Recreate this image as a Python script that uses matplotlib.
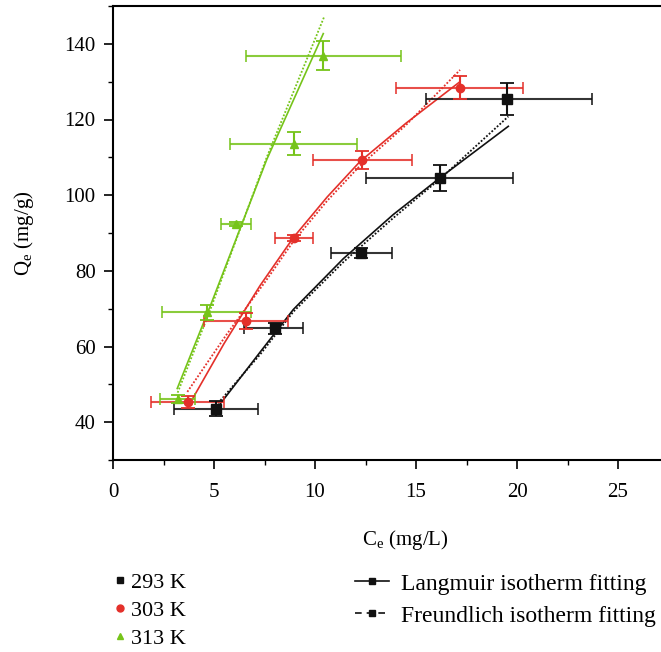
import matplotlib
matplotlib.use("Agg")
import matplotlib.pyplot as plt
from matplotlib.lines import Line2D
from matplotlib.ticker import MultipleLocator

plt.rcParams["font.family"] = ["Liberation Serif", "DejaVu Serif"]
plt.rcParams["mathtext.fontset"] = "custom"
plt.rcParams["mathtext.rm"] = "Liberation Serif"

# measured points (Ce, Qe) with error bounds
x_293 = [5.1, 8.0, 12.3, 16.2, 19.5]
y_293 = [43.6, 64.8, 84.7, 104.6, 125.4]
xlo_293 = [3.0, 6.5, 10.8, 12.5, 15.5]
xhi_293 = [7.2, 9.4, 13.8, 19.8, 23.7]
yerr_293 = [2.0, 1.5, 1.4, 3.5, 4.2]

x_303 = [3.7, 6.6, 8.95, 12.35, 17.2]
y_303 = [45.3, 66.7, 88.6, 109.3, 128.4]
xlo_303 = [1.9, 4.5, 8.0, 9.9, 14.0]
xhi_303 = [5.5, 8.65, 9.9, 14.8, 20.3]
yerr_303 = [1.5, 2.1, 0.8, 2.5, 3.1]

x_313 = [3.2, 4.65, 6.1, 8.95, 10.4]
y_313 = [46.1, 69.0, 92.3, 113.6, 136.9]
xlo_313 = [2.35, 2.45, 5.35, 5.8, 6.6]
xhi_313 = [4.05, 6.85, 6.85, 12.1, 14.25]
yerr_313 = [1.0, 2.1, 0.5, 3.1, 3.8]

# fitted curves
lang_x_293 = [5.13, 7.28, 8.93, 11.4, 13.88, 16.19, 19.57]
lang_y_293 = [43.6, 58.5, 69.8, 83.2, 94.9, 104.6, 118.2]
freu_x_293 = [5.2, 7.3, 8.93, 11.4, 13.88, 16.19, 19.57]
freu_y_293 = [45.0, 58.0, 69.2, 82.3, 94.0, 104.3, 120.8]

lang_x_303 = [3.78, 5.5, 7.28, 8.93, 10.6, 12.23, 14.5, 17.18]
lang_y_303 = [44.7, 60.8, 76.1, 88.8, 99.5, 108.9, 119.0, 130.0]
freu_x_303 = [3.68, 5.6, 7.52, 8.93, 10.6, 12.23, 14.5, 17.18]
freu_y_303 = [48.0, 63.0, 77.0, 87.8, 98.5, 107.8, 118.5, 133.1]

lang_x_313 = [3.18, 4.8, 7.61, 10.41]
lang_y_313 = [48.9, 70.5, 109.4, 142.7]
freu_x_313 = [3.2, 4.8, 7.61, 10.45]
freu_y_313 = [47.8, 69.5, 110.0, 147.1]

black = "#111111"
red = "#e4302a"
green = "#76c41a"

fig = plt.figure(figsize=(6.61, 6.52), dpi=100)
ax = fig.add_axes([113 / 661, 1 - 460 / 652, 565.6 / 661, 454 / 652])

series = [
    (x_293, y_293, xlo_293, xhi_293, yerr_293, black, "s", 6.5,
     lang_x_293, lang_y_293, freu_x_293, freu_y_293),
    (x_303, y_303, xlo_303, xhi_303, yerr_303, red, "o", 6,
     lang_x_303, lang_y_303, freu_x_303, freu_y_303),
    (x_313, y_313, xlo_313, xhi_313, yerr_313, green, "^", 6,
     lang_x_313, lang_y_313, freu_x_313, freu_y_313),
]

for xs, ys, xlo, xhi, ye, c, m, ms, lx, ly, fx, fy in series:
    ax.plot(lx, ly, color=c, lw=1.2, zorder=2)
    ax.plot(fx, fy, color=c, lw=1.3, ls=(0, (1, 1)), zorder=2)
    xerr = [[x - lo for x, lo in zip(xs, xlo)], [hi - x for x, hi in zip(xs, xhi)]]
    ax.errorbar(xs, ys, xerr=xerr, fmt="none", ecolor=c, elinewidth=1.5,
                capsize=4, capthick=1.3, alpha=0.85, zorder=3)
    ax.errorbar(xs, ys, yerr=ye, fmt=m, color=c, ms=ms, ecolor=c,
                elinewidth=1.5, capsize=5, capthick=1.3, zorder=4)

ax.set_xlim(0, 28)
ax.set_ylim(30, 150)
ax.xaxis.set_major_locator(MultipleLocator(5))
ax.xaxis.set_minor_locator(MultipleLocator(2.5))
ax.yaxis.set_minor_locator(MultipleLocator(10))
ax.set_yticks([40, 60, 80, 100, 120, 140])
ax.tick_params(which="major", direction="out", length=6.5, width=1.2, labelsize=15)
ax.tick_params(axis="x", which="major", pad=10)
ax.tick_params(axis="y", which="major", pad=6)
ax.tick_params(which="minor", direction="out", length=3.5, width=1.0)
for s in ax.spines.values():
    s.set_linewidth(1.5)

ax.set_xlabel("C$_\\mathrm{e}$ (mg/L)", fontsize=15)
ax.xaxis.set_label_coords((405 - 113) / 565.6, -0.15)
ax.set_ylabel("Q$_\\mathrm{e}$ (mg/g)", fontsize=15)
ax.yaxis.set_label_coords((36 - 113) / 565.6, 0.5)

temp_handles = [
    Line2D([], [], ls="none", marker="s", color=black, ms=5),
    Line2D([], [], ls="none", marker="o", color=red, ms=5),
    Line2D([], [], ls="none", marker="^", color=green, ms=5),
]
fig.legend(temp_handles, ["293 K", "303 K", "313 K"], loc="upper left",
           bbox_to_anchor=(114 / 661, 1 - 572 / 652), frameon=False,
           fontsize=16, handlelength=0.55, handletextpad=0.2,
           labelspacing=0.35, borderaxespad=0, borderpad=0)

fit_handles = [
    Line2D([], [], color=black, lw=1.2, ls="-", marker="s", ms=4.5),
    Line2D([], [], color=black, lw=1.2, ls=(0, (4, 3)), marker="s", ms=4.5),
]
fig.legend(fit_handles, ["Langmuir isotherm fitting", "Freundlich isotherm fitting"],
           loc="upper left", bbox_to_anchor=(355 / 661, 1 - 573 / 652), frameon=False,
           fontsize=17, handlelength=1.45, handletextpad=0.5, labelspacing=0.45,
           borderaxespad=0, borderpad=0)

fig.savefig("out.png", dpi=100)
